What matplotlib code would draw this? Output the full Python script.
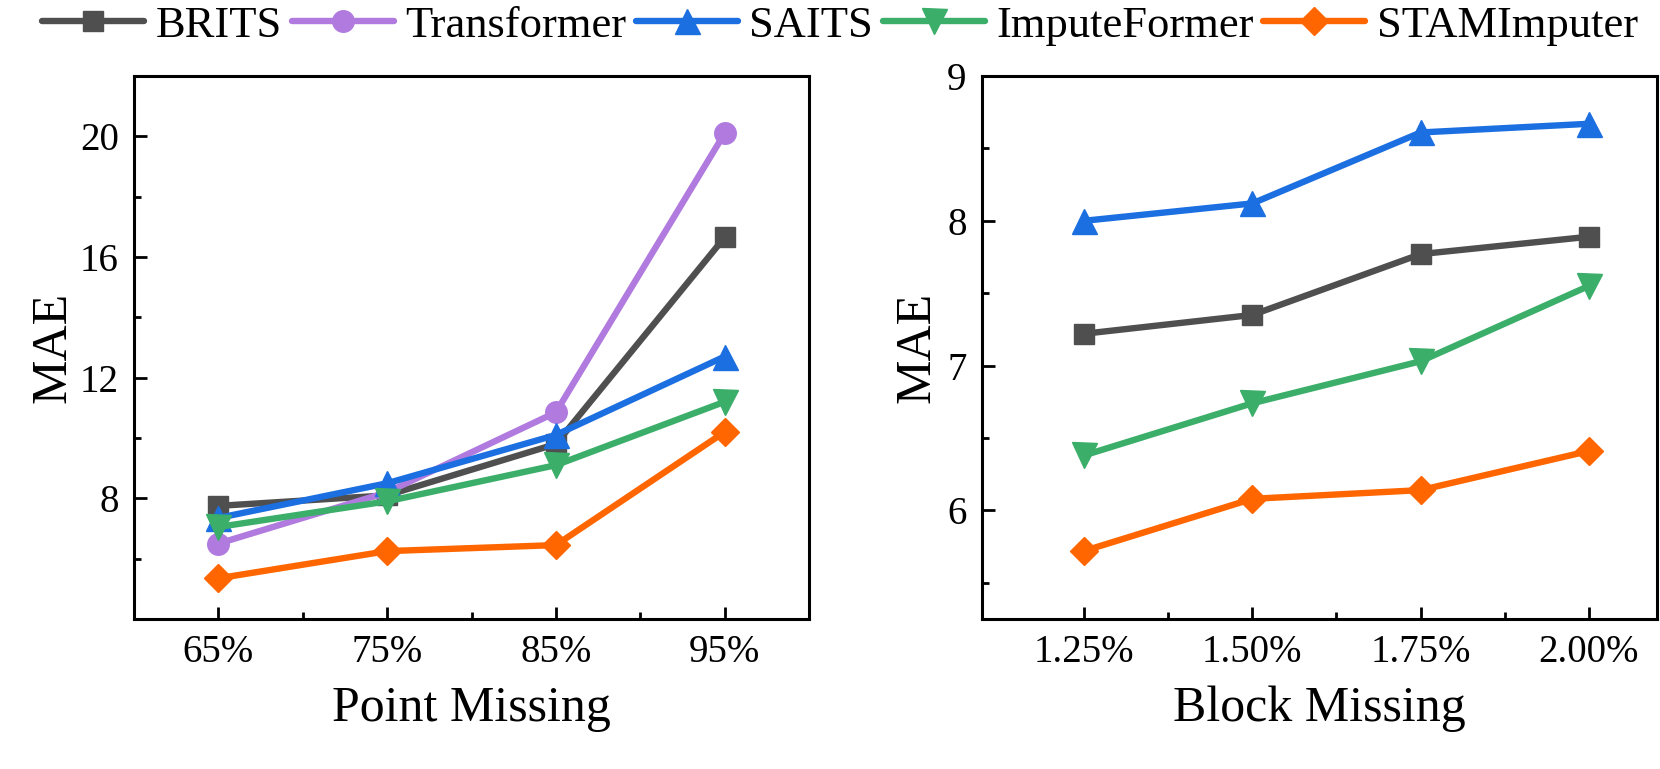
import matplotlib
matplotlib.use("Agg")
import matplotlib.pyplot as plt
from matplotlib.ticker import FixedLocator
from matplotlib.lines import Line2D

plt.rcParams['font.family'] = ['Liberation Serif', 'DejaVu Serif']

methods = ["BRITS", "Transformer", "SAITS", "ImputeFormer", "STAMImputer"]
colors = ["#4F4F4F", "#B07ADF", "#1C6FE0", "#3BAE6A", "#FF6600"]
markers = ["s", "o", "^", "v", "D"]

point_labels = ["65%", "75%", "85%", "95%"]
point_brits = [7.75, 8.1, 9.8, 16.65]
point_transformer = [6.5, 8.2, 10.85, 20.1]
point_saits = [7.35, 8.5, 10.1, 12.7]
point_imputeformer = [7.05, 7.9, 9.1, 11.2]
point_stam = [5.35, 6.25, 6.45, 10.2]

block_labels = ["1.25%", "1.50%", "1.75%", "2.00%"]
block_brits = [7.22, 7.35, 7.77, 7.89]
block_saits = [8.0, 8.12, 8.61, 8.67]
block_imputeformer = [6.38, 6.74, 7.03, 7.55]
block_stam = [5.72, 6.08, 6.14, 6.41]

W, H = 1660, 769
fig = plt.figure(figsize=(W / 100, H / 100), dpi=100)
ax1 = fig.add_axes([134 / W, (H - 619) / H, 675 / W, 543 / H])
ax2 = fig.add_axes([982 / W, (H - 619) / H, 675 / W, 543 / H])

msizes = {"s": 14, "o": 15.5, "^": 18, "v": 18, "D": 14.5}
lw = 4.6

def draw(ax, series):
    for name, vals in series:
        i = methods.index(name)
        x = list(range(len(vals)))
        ax.plot(x, vals, color=colors[i], marker=markers[i], ms=msizes[markers[i]],
                lw=lw, mec=colors[i], mfc=colors[i], solid_capstyle='round')

draw(ax1, [("BRITS", point_brits), ("Transformer", point_transformer),
           ("SAITS", point_saits), ("ImputeFormer", point_imputeformer),
           ("STAMImputer", point_stam)])
draw(ax2, [("BRITS", block_brits), ("SAITS", block_saits),
           ("ImputeFormer", block_imputeformer), ("STAMImputer", block_stam)])

ax1.set_xlim(-0.5, 3.5)
ax1.set_ylim(4, 22)
ax1.yaxis.set_major_locator(FixedLocator([8, 12, 16, 20]))
ax1.yaxis.set_minor_locator(FixedLocator([6, 10, 14, 18]))
ax1.set_xticks(range(4))
ax1.set_xticklabels(point_labels)
ax1.xaxis.set_minor_locator(FixedLocator([0.5, 1.5, 2.5]))
ax1.set_xlabel("Point Missing", fontsize=36, labelpad=10)
ax1.set_ylabel("MAE", fontsize=36, labelpad=2)

ax2.set_xlim(-0.607, 3.405)
ax2.set_ylim(5.25, 9)
ax2.yaxis.set_major_locator(FixedLocator([6, 7, 8, 9]))
ax2.yaxis.set_minor_locator(FixedLocator([5.5, 6.5, 7.5, 8.5]))
ax2.set_xticks(range(4))
ax2.set_xticklabels(block_labels)
ax2.xaxis.set_minor_locator(FixedLocator([0.5, 1.5, 2.5]))
ax2.set_xlabel("Block Missing", fontsize=36, labelpad=10)
ax2.set_ylabel("MAE", fontsize=36, labelpad=5)

for ax in (ax1, ax2):
    for s in ax.spines.values():
        s.set_linewidth(2.2)
    ax.tick_params(which='major', direction='in', length=9, width=2, labelsize=28, pad=11)
    ax.tick_params(which='minor', direction='in', length=5, width=2)
    ax.tick_params(axis='x', which='major', pad=11)

handles = [Line2D([], [], color=colors[i], marker=markers[i], ms=msizes[markers[i]],
                  lw=lw, solid_capstyle='round') for i in range(5)]
fig.legend(handles, methods, loc='center', bbox_to_anchor=(0.506, 1 - 26 / H), ncol=5,
           frameon=False, fontsize=32, handlelength=2.3, handletextpad=0.25,
           columnspacing=0.22, borderaxespad=0, borderpad=0)

fig.savefig("out.png", dpi=100)
